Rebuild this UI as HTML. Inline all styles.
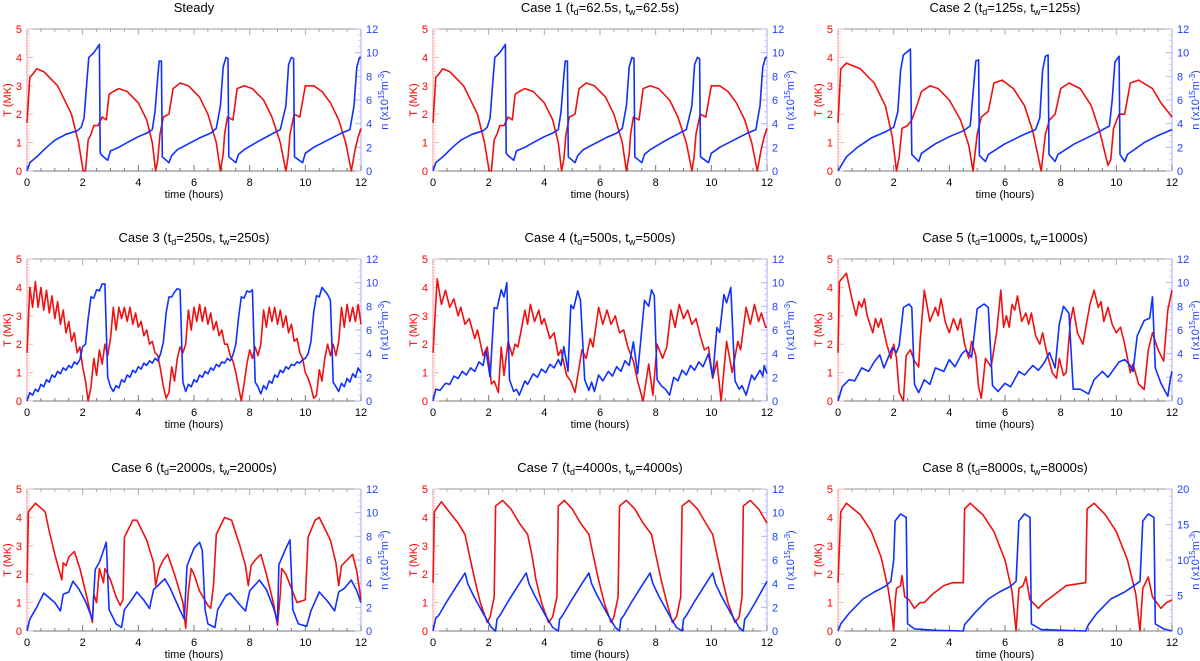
<!DOCTYPE html>
<html><head><meta charset="utf-8"><style>
html,body{margin:0;padding:0;background:#fff;}
svg{display:block;font-family:"Liberation Sans",sans-serif;}
</style></head><body>
<svg id="fig" width="1200" height="661" viewBox="0 0 1200 661" xmlns="http://www.w3.org/2000/svg"></svg>
<script>
// ---- data: [time (hours), value] pairs ----
const steadyT = [[0,1.7],[0.1,3.3],[0.2,3.4],[0.35,3.6],[0.6,3.5],[1.1,3.0],[1.6,2.0],[1.85,1.0],[2.02,0],[2.1,0],[2.2,1.1],[2.3,1.3],[2.4,1.6],[2.55,1.6],[2.7,1.9],[2.85,1.8],[2.95,2.7],[3.1,2.8],[3.3,2.9],[3.6,2.8],[4.0,2.4],[4.3,1.8],[4.5,1.0],[4.62,0],[4.7,0.4],[4.78,1.3],[4.9,1.9],[5.1,2.0],[5.25,2.9],[5.5,3.1],[5.8,3.0],[6.2,2.6],[6.5,2.0],[6.8,1.0],[6.95,0],[7.05,0.6],[7.1,1.3],[7.2,1.9],[7.4,1.8],[7.55,2.9],[7.8,3.0],[8.1,2.9],[8.5,2.5],[8.8,1.9],[9.1,1.0],[9.3,0],[9.38,0.5],[9.45,1.3],[9.6,2.0],[9.8,1.9],[10.0,3.0],[10.3,3.0],[10.6,2.8],[10.9,2.4],[11.2,1.8],[11.45,1.0],[11.65,0],[11.8,0.8],[11.9,1.2],[12,1.5]];
const steadyN = [[0,0],[0.1,0.7],[0.4,1.3],[0.7,2.0],[1.0,2.6],[1.4,3.1],[1.8,3.4],[1.95,3.7],[2.05,4.5],[2.15,7.5],[2.22,9.6],[2.4,10.0],[2.6,10.7],[2.63,1.5],[2.7,1.3],[2.9,0.9],[3.0,1.7],[3.3,2.0],[3.6,2.4],[4.0,2.9],[4.3,3.2],[4.5,3.5],[4.6,5.0],[4.7,8.0],[4.75,9.3],[4.83,9.3],[4.86,1.2],[5.1,0.7],[5.2,1.3],[5.4,1.8],[5.8,2.3],[6.2,2.8],[6.6,3.2],[6.8,3.6],[6.95,5.5],[7.05,8.8],[7.15,9.6],[7.22,9.5],[7.25,1.2],[7.5,0.7],[7.6,1.4],[7.8,1.8],[8.3,2.5],[8.7,3.0],[9.1,3.5],[9.3,5.5],[9.4,9.0],[9.5,9.6],[9.58,9.5],[9.61,1.2],[9.9,0.7],[10.0,1.5],[10.3,2.0],[10.8,2.6],[11.3,3.2],[11.6,3.5],[11.75,5.5],[11.85,8.8],[11.95,9.6],[12,9.6]];
const case1T = [[0,1.7],[0.1,3.3],[0.2,3.4],[0.35,3.6],[0.6,3.5],[1.1,3.0],[1.6,2.0],[1.85,1.0],[2.02,0],[2.1,0],[2.2,1.1],[2.3,1.3],[2.4,1.6],[2.55,1.6],[2.7,1.9],[2.85,1.8],[2.95,2.7],[3.1,2.8],[3.3,2.9],[3.6,2.8],[4.0,2.4],[4.3,1.8],[4.5,1.0],[4.62,0],[4.7,0.4],[4.78,1.3],[4.9,1.9],[5.1,2.0],[5.25,2.9],[5.5,3.1],[5.8,3.0],[6.2,2.6],[6.5,2.0],[6.8,1.0],[6.95,0],[7.05,0.6],[7.1,1.3],[7.2,1.9],[7.4,1.8],[7.55,2.9],[7.8,3.0],[8.1,2.9],[8.5,2.5],[8.8,1.9],[9.1,1.0],[9.3,0],[9.38,0.5],[9.45,1.3],[9.6,2.0],[9.8,1.9],[10.0,3.0],[10.3,3.0],[10.6,2.8],[10.9,2.4],[11.2,1.8],[11.45,1.0],[11.65,0],[11.8,0.8],[11.9,1.2],[12,1.5]];
const case1N = [[0,0],[0.1,0.7],[0.4,1.3],[0.7,2.0],[1.0,2.6],[1.4,3.1],[1.8,3.4],[1.95,3.7],[2.05,4.5],[2.15,7.5],[2.22,9.6],[2.4,10.0],[2.6,10.7],[2.63,1.5],[2.7,1.3],[2.9,0.9],[3.0,1.7],[3.3,2.0],[3.6,2.4],[4.0,2.9],[4.3,3.2],[4.5,3.5],[4.6,5.0],[4.7,8.0],[4.75,9.3],[4.83,9.3],[4.86,1.2],[5.1,0.7],[5.2,1.3],[5.4,1.8],[5.8,2.3],[6.2,2.8],[6.6,3.2],[6.8,3.6],[6.95,5.5],[7.05,8.8],[7.15,9.6],[7.22,9.5],[7.25,1.2],[7.5,0.7],[7.6,1.4],[7.8,1.8],[8.3,2.5],[8.7,3.0],[9.1,3.5],[9.3,5.5],[9.4,9.0],[9.5,9.6],[9.58,9.5],[9.61,1.2],[9.9,0.7],[10.0,1.5],[10.3,2.0],[10.8,2.6],[11.3,3.2],[11.6,3.5],[11.75,5.5],[11.85,8.8],[11.95,9.6],[12,9.6]];
const case2T = [[0,1.7],[0.1,3.6],[0.3,3.8],[0.8,3.6],[1.3,3.1],[1.7,2.3],[1.95,1.2],[2.1,0],[2.2,0.5],[2.3,1.5],[2.5,1.6],[2.65,1.8],[2.8,2.2],[3.0,2.8],[3.3,3.0],[3.6,2.9],[4.0,2.5],[4.4,1.8],[4.7,0.9],[4.85,0],[5.0,1.3],[5.15,1.9],[5.4,2.1],[5.6,3.1],[5.9,3.2],[6.3,2.9],[6.7,2.3],[7.0,1.4],[7.3,0],[7.45,1.3],[7.6,1.8],[7.8,2.0],[8.0,2.9],[8.3,3.1],[8.7,2.9],[9.1,2.3],[9.4,1.4],[9.7,0.2],[9.8,0.4],[9.9,1.5],[10.1,2.0],[10.3,2.0],[10.5,3.1],[10.8,3.2],[11.3,2.9],[11.6,2.4],[12,1.9]];
const case2N = [[0,0],[0.3,1.2],[0.7,2.0],[1.2,2.8],[1.7,3.3],[2.0,3.7],[2.15,5.0],[2.25,8.5],[2.35,9.8],[2.6,10.3],[2.65,1.4],[2.9,0.8],[3.0,1.5],[3.5,2.3],[4.0,2.9],[4.5,3.4],[4.75,3.8],[4.85,6.5],[4.95,9.3],[5.05,9.4],[5.08,1.3],[5.3,0.8],[5.4,1.4],[6.0,2.3],[6.6,3.0],[7.1,3.5],[7.25,4.5],[7.35,8.5],[7.45,9.7],[7.55,9.8],[7.58,1.4],[7.8,0.8],[7.9,1.4],[8.5,2.3],[9.2,3.1],[9.75,3.8],[9.85,6.0],[9.95,9.2],[10.1,9.7],[10.13,1.4],[10.3,0.8],[10.4,1.4],[11.0,2.4],[11.5,3.0],[12,3.5]];
// case 3: uniformly sampled every 0.1 h starting at t=0
const case3T = [1.7,4.0,3.3,4.2,3.3,4.0,3.2,3.9,3.1,3.7,2.9,3.5,2.7,3.2,2.4,2.8,2.1,2.4,1.7,1.9,1.2,0.7,0.0,0.5,1.5,0.9,1.8,1.3,2.0,1.6,2.2,3.3,2.5,3.3,2.9,3.3,2.8,3.3,2.7,3.1,2.6,2.8,2.3,2.5,2.0,2.1,1.7,1.6,1.1,0.5,0.1,0.3,1.2,0.7,1.5,1.9,1.7,2.0,3.2,2.5,3.3,2.8,3.4,2.8,3.3,2.7,3.1,2.5,2.8,2.3,2.5,2.0,2.0,1.6,1.4,1.0,0.5,0.0,0.6,1.3,1.8,1.5,1.9,1.6,2.0,3.2,2.6,3.3,2.8,3.3,2.7,3.2,2.6,3.0,2.4,2.7,2.1,2.2,1.7,1.5,1.0,0.8,0.5,0.1,0.2,1.1,0.7,1.5,2.0,1.6,2.0,1.6,2.1,3.3,2.6,3.4,2.8,3.3,2.8,3.4,2.7];
const case3N = [0,0.7,0.5,1.0,0.8,1.4,1.2,1.8,1.6,2.2,2.0,2.5,2.3,2.8,2.6,3.0,2.8,3.3,3.1,3.5,4.6,4.8,7.0,8.8,8.7,9.4,9.3,9.9,9.9,2.0,1.2,0.8,1.3,1.1,1.8,1.6,2.2,2.0,2.6,2.4,2.9,2.7,3.2,3.0,3.4,3.2,3.6,3.4,4.0,5.0,7.5,8.8,8.8,9.2,9.5,9.4,1.6,0.8,1.4,1.2,1.8,1.6,2.2,2.0,2.5,2.3,2.8,2.6,3.1,2.9,3.3,3.2,3.6,3.4,3.9,4.8,7.0,8.8,8.7,9.3,9.2,9.4,1.6,1.2,0.6,1.3,1.0,1.7,1.5,2.2,2.0,2.6,2.4,2.9,2.7,3.1,3.0,3.3,3.2,3.5,3.6,4.0,5.0,7.5,8.9,8.8,9.6,9.3,9.0,8.5,1.6,1.2,0.8,1.5,1.2,1.9,1.6,2.3,2.0,2.8,2.4];
const case4T = [[0,1.7],[0.15,4.3],[0.3,3.4],[0.45,3.9],[0.6,3.3],[0.75,3.6],[0.9,3.0],[1.0,3.3],[1.15,2.7],[1.3,2.9],[1.5,2.2],[1.6,2.5],[1.8,1.6],[1.95,1.9],[2.1,0.6],[2.2,0.7],[2.35,0.3],[2.45,1.9],[2.55,0.9],[2.7,2.1],[2.85,1.6],[2.95,2.0],[3.05,1.9],[3.15,2.4],[3.3,3.2],[3.4,2.7],[3.5,3.4],[3.65,2.8],[3.8,3.2],[3.9,2.7],[4.0,2.9],[4.2,2.2],[4.35,2.4],[4.5,1.6],[4.6,1.8],[4.8,0.9],[4.95,0.7],[5.1,0.3],[5.35,1.8],[5.5,1.5],[5.65,2.2],[5.75,1.9],[5.95,3.3],[6.1,2.7],[6.25,3.2],[6.4,2.7],[6.55,3.0],[6.7,2.4],[6.85,2.5],[7.0,1.9],[7.2,1.4],[7.35,0.7],[7.55,0],[7.75,1.3],[7.9,0.2],[8.05,2.0],[8.25,1.5],[8.4,1.9],[8.55,3.2],[8.7,2.6],[8.85,3.4],[9.0,2.9],[9.15,3.2],[9.3,2.7],[9.45,2.9],[9.6,2.3],[9.75,1.8],[9.9,1.9],[10.05,0.8],[10.2,1.4],[10.35,0],[10.55,2.1],[10.75,1.0],[10.95,2.1],[11.05,1.8],[11.25,3.3],[11.4,2.7],[11.55,3.4],[11.7,2.8],[11.8,3.1],[11.95,2.6],[12,2.6]];
const case4N = [[0,0],[0.1,1.0],[0.25,0.9],[0.45,1.5],[0.6,1.4],[0.75,2.1],[0.9,1.9],[1.05,2.5],[1.2,2.2],[1.35,2.8],[1.5,2.5],[1.65,3.3],[1.8,3.0],[1.9,4.3],[2.05,2.0],[2.2,7.9],[2.3,7.8],[2.45,9.4],[2.55,8.8],[2.65,10.0],[2.75,1.8],[2.9,0.8],[3.0,1.0],[3.1,0.5],[3.3,1.7],[3.4,1.4],[3.6,2.3],[3.75,2.0],[3.9,2.7],[4.05,2.4],[4.2,3.1],[4.35,2.8],[4.5,3.5],[4.6,3.0],[4.7,4.6],[4.85,2.5],[4.95,8.1],[5.05,7.8],[5.2,9.3],[5.3,8.5],[5.45,1.8],[5.6,0.9],[5.7,1.6],[5.8,0.8],[5.95,2.2],[6.1,1.7],[6.3,2.5],[6.45,2.1],[6.6,2.9],[6.75,2.5],[6.9,3.4],[7.05,3.0],[7.2,5.0],[7.35,2.3],[7.6,8.5],[7.75,8.0],[7.85,9.4],[7.95,8.9],[8.05,1.8],[8.2,1.3],[8.35,1.0],[8.5,0.5],[8.65,2.0],[8.8,1.7],[8.95,2.6],[9.1,2.2],[9.25,3.0],[9.4,2.6],[9.55,3.3],[9.7,2.9],[9.9,4.0],[10.05,2.0],[10.2,6.2],[10.3,5.8],[10.45,9.0],[10.55,8.3],[10.7,9.6],[10.85,1.7],[11.0,1.0],[11.1,1.3],[11.25,0.5],[11.45,2.2],[11.55,1.8],[11.75,2.6],[11.85,2.1],[11.9,3.0],[12,2.3]];
const case5T = [[0,1.7],[0.05,4.2],[0.3,4.5],[0.5,3.6],[0.65,3.0],[0.75,3.5],[0.85,3.3],[0.95,3.6],[1.05,3.0],[1.25,2.4],[1.35,2.9],[1.45,2.6],[1.55,2.9],[1.75,2.0],[1.9,1.5],[2.0,2.0],[2.1,1.5],[2.2,0.3],[2.35,0],[2.45,1.6],[2.6,1.8],[2.75,1.4],[2.9,1.2],[2.95,2.1],[3.1,3.9],[3.3,2.8],[3.5,3.3],[3.6,3.0],[3.7,3.6],[3.85,2.8],[4.0,2.4],[4.15,2.9],[4.3,2.5],[4.4,2.9],[4.55,2.0],[4.7,1.5],[4.8,2.1],[4.95,1.6],[5.05,0.5],[5.15,0.1],[5.3,1.5],[5.5,1.2],[5.7,2.4],[5.85,3.9],[5.95,2.6],[6.05,3.0],[6.15,2.6],[6.25,3.4],[6.35,3.2],[6.45,3.7],[6.6,2.8],[6.75,3.1],[6.85,2.7],[6.95,3.1],[7.1,2.3],[7.25,2.0],[7.35,2.4],[7.5,1.7],[7.7,1.0],[7.85,0.8],[7.95,1.5],[8.1,0.9],[8.2,1.0],[8.35,2.8],[8.45,3.3],[8.6,2.4],[8.8,2.0],[9.05,3.4],[9.2,3.9],[9.35,3.3],[9.45,3.5],[9.55,2.8],[9.7,3.3],[9.85,2.7],[10.0,2.4],[10.15,2.6],[10.3,2.0],[10.5,1.0],[10.6,1.3],[10.8,0.6],[11.0,0.4],[11.15,1.8],[11.3,2.4],[11.5,1.8],[11.7,1.4],[11.85,3.2],[12,3.9]];
const case5N = [[0,0],[0.15,1.2],[0.4,1.8],[0.6,1.7],[0.85,2.8],[1.1,2.5],[1.3,3.3],[1.5,3.9],[1.65,2.8],[1.95,4.5],[2.1,4.1],[2.2,4.7],[2.35,7.9],[2.55,8.2],[2.65,7.9],[2.75,1.4],[2.9,0.7],[3.1,1.8],[3.3,1.4],[3.5,2.8],[3.8,2.5],[4.0,3.5],[4.2,2.9],[4.45,4.0],[4.6,4.3],[4.8,3.7],[5.0,7.8],[5.25,8.2],[5.4,7.9],[5.55,1.3],[5.75,0.8],[6.0,1.5],[6.2,1.2],[6.5,2.5],[6.7,2.2],[7.0,3.0],[7.2,2.6],[7.4,3.2],[7.6,4.1],[7.8,2.8],[7.95,6.5],[8.1,8.0],[8.3,7.4],[8.45,1.0],[8.7,1.0],[9.0,0.6],[9.2,1.8],[9.5,2.5],[9.7,2.0],[10.1,3.3],[10.3,3.5],[10.5,3.0],[10.6,2.5],[10.75,5.5],[11.0,6.8],[11.2,7.0],[11.3,8.8],[11.4,2.8],[11.6,1.5],[11.85,0.4],[11.95,2.0],[12,2.5]];
const case6T = [[0,1.7],[0.05,4.2],[0.3,4.5],[0.65,4.2],[0.8,3.5],[1.0,2.7],[1.25,1.8],[1.3,2.4],[1.4,2.3],[1.5,2.6],[1.7,2.8],[1.9,2.2],[2.15,1.2],[2.35,0.3],[2.4,1.3],[2.5,1.0],[2.6,2.2],[2.75,1.7],[2.8,2.2],[3.0,1.8],[3.2,1.2],[3.35,0.9],[3.45,1.1],[3.5,3.3],[3.8,3.9],[3.95,3.9],[4.3,3.2],[4.55,2.4],[4.62,1.6],[4.75,2.2],[4.9,2.5],[5.05,2.7],[5.3,2.0],[5.6,1.0],[5.7,0.1],[5.8,1.4],[5.9,2.2],[6.0,2.0],[6.2,1.4],[6.5,0.9],[6.6,0.8],[6.7,1.6],[6.8,3.4],[7.1,4.0],[7.35,3.9],[7.65,3.0],[7.85,2.3],[7.95,1.6],[8.05,2.3],[8.2,2.5],[8.4,2.7],[8.6,2.0],[8.85,1.0],[9.0,0.2],[9.1,1.3],[9.15,2.2],[9.3,2.0],[9.5,1.5],[9.7,1.0],[10.0,1.1],[10.1,3.3],[10.35,3.9],[10.5,4.0],[10.9,3.2],[11.1,2.4],[11.2,1.6],[11.3,2.3],[11.5,2.5],[11.7,2.7],[11.85,2.1],[12,1.1]];
const case6N = [[0,0],[0.1,1.0],[0.35,2.0],[0.6,3.2],[0.8,2.8],[1.0,2.4],[1.2,1.7],[1.3,3.1],[1.5,3.3],[1.65,4.2],[1.85,3.6],[2.1,2.5],[2.35,1.0],[2.45,5.2],[2.6,5.8],[2.85,7.5],[2.95,1.8],[3.2,0.6],[3.4,0.3],[3.5,1.8],[3.75,2.6],[3.95,3.3],[4.2,2.6],[4.4,1.9],[4.55,3.5],[4.95,4.4],[5.15,3.6],[5.45,2.0],[5.65,1.0],[5.75,5.5],[6.0,7.0],[6.2,7.5],[6.3,6.8],[6.4,1.8],[6.5,0.6],[6.75,0.3],[6.85,1.8],[7.15,3.0],[7.3,3.2],[7.65,2.2],[7.85,1.7],[8.0,3.4],[8.35,4.3],[8.6,3.5],[8.85,2.0],[9.0,0.8],[9.05,5.6],[9.3,7.0],[9.45,7.7],[9.55,1.8],[9.75,0.6],[10.05,0.4],[10.2,1.7],[10.5,3.3],[10.8,2.5],[11.05,1.7],[11.2,3.3],[11.4,3.6],[11.65,4.3],[11.85,3.4],[12,2.4]];
const case7T = [[0,1.7],[0.05,4.2],[0.3,4.55],[0.5,4.3],[0.9,3.8],[1.15,3.4],[1.3,2.7],[1.5,1.8],[1.7,1.0],[1.95,0.3],[2.05,0.5],[2.2,1.2],[2.25,4.4],[2.5,4.6],[2.8,4.3],[3.1,3.8],[3.4,3.4],[3.55,2.7],[3.7,1.8],[3.9,1.0],[4.15,0.3],[4.3,0.5],[4.45,1.2],[4.5,4.4],[4.72,4.6],[5.0,4.3],[5.3,3.8],[5.6,3.4],[5.75,2.7],[5.95,1.8],[6.15,1.0],[6.4,0.3],[6.5,0.5],[6.65,1.2],[6.7,4.4],[6.95,4.6],[7.25,4.3],[7.55,3.8],[7.85,3.4],[8.0,2.7],[8.2,1.8],[8.4,1.0],[8.6,0.3],[8.75,0.5],[8.9,1.2],[8.95,4.4],[9.2,4.6],[9.5,4.3],[9.8,3.8],[10.05,3.4],[10.2,2.7],[10.4,1.8],[10.6,1.0],[10.85,0.3],[11.0,0.5],[11.1,1.2],[11.15,4.4],[11.4,4.6],[11.7,4.3],[12,3.8]];
const case7N = [[0,0],[0.1,1.1],[0.2,1.3],[0.5,2.5],[0.9,4.0],[1.15,4.9],[1.25,4.0],[1.45,3.0],[1.8,1.5],[2.1,0.3],[2.25,0],[2.3,1.0],[2.4,1.3],[2.7,2.5],[3.1,4.0],[3.35,4.9],[3.45,4.0],[3.65,3.0],[4.0,1.5],[4.3,0.3],[4.5,0],[4.55,1.0],[4.65,1.3],[4.95,2.5],[5.35,4.0],[5.6,4.9],[5.7,4.0],[5.9,3.0],[6.25,1.5],[6.55,0.3],[6.7,0],[6.75,1.0],[6.85,1.3],[7.15,2.5],[7.55,4.0],[7.8,4.9],[7.9,4.0],[8.1,3.0],[8.45,1.5],[8.75,0.3],[8.95,0],[9.0,1.0],[9.1,1.3],[9.4,2.5],[9.8,4.0],[10.05,4.9],[10.15,4.0],[10.35,3.0],[10.7,1.5],[11.0,0.3],[11.15,0],[11.2,1.0],[11.3,1.3],[11.6,2.5],[12,4.2]];
const case8T = [[0,1.7],[0.1,4.2],[0.3,4.5],[0.8,4.1],[1.2,3.5],[1.55,2.6],[1.8,1.5],[1.95,0.5],[2.0,0],[2.05,1.0],[2.1,1.5],[2.25,1.6],[2.3,1.95],[2.4,1.2],[2.55,1.1],[2.75,0.8],[2.95,1.0],[3.1,1.0],[3.4,1.3],[3.8,1.6],[4.1,1.7],[4.5,1.7],[4.55,4.3],[4.75,4.5],[5.2,4.1],[5.6,3.5],[6.0,2.5],[6.25,1.4],[6.4,0],[6.5,1.5],[6.65,1.6],[6.75,1.9],[6.9,1.1],[7.2,0.8],[7.4,1.0],[8.2,1.6],[8.9,1.7],[8.95,4.3],[9.2,4.5],[9.6,4.1],[10.0,3.5],[10.4,2.5],[10.7,1.3],[10.85,0],[10.95,1.5],[11.15,1.9],[11.3,1.2],[11.6,0.8],[11.8,1.0],[12,1.1]];
const case8N = [[0,0],[0.1,1.0],[0.4,2.5],[0.9,4.5],[1.3,5.5],[1.7,6.3],[1.9,7.0],[2.0,10],[2.05,15.5],[2.25,16.5],[2.45,16.0],[2.5,1.0],[2.75,0.3],[3.5,0.1],[4.5,0],[4.55,0.9],[4.9,2.5],[5.4,4.5],[5.8,5.5],[6.2,6.3],[6.4,7.0],[6.5,15.5],[6.7,16.5],[6.9,16.0],[6.95,1.0],[7.3,0.2],[8.9,0],[9.0,0.9],[9.3,2.5],[9.8,4.5],[10.3,5.5],[10.6,6.3],[10.85,7.0],[10.95,15.5],[11.15,16.5],[11.35,16.0],[11.4,1.0],[11.7,0.3],[12,0]];
const xTicks = [0,2,4,6,8,10,12];
const tTicks = [0,1,2,3,4,5];
const nTicks12 = [0,2,4,6,8,10,12];
const nTicks20 = [0,5,10,15,20];

const panels = [
 {name:'steady', title:['Steady'], T:steadyT, N:steadyN, nmax:12, nt:nTicks12},
 {name:'case-1', title:['Case 1 (t','d','=62.5s, t','w','=62.5s)'], T:case1T, N:case1N, nmax:12, nt:nTicks12},
 {name:'case-2', title:['Case 2 (t','d','=125s, t','w','=125s)'], T:case2T, N:case2N, nmax:12, nt:nTicks12},
 {name:'case-3', title:['Case 3 (t','d','=250s, t','w','=250s)'], T:case3T, N:case3N, nmax:12, nt:nTicks12},
 {name:'case-4', title:['Case 4 (t','d','=500s, t','w','=500s)'], T:case4T, N:case4N, nmax:12, nt:nTicks12},
 {name:'case-5', title:['Case 5 (t','d','=1000s, t','w','=1000s)'], T:case5T, N:case5N, nmax:12, nt:nTicks12},
 {name:'case-6', title:['Case 6 (t','d','=2000s, t','w','=2000s)'], T:case6T, N:case6N, nmax:12, nt:nTicks12},
 {name:'case-7', title:['Case 7 (t','d','=4000s, t','w','=4000s)'], T:case7T, N:case7N, nmax:12, nt:nTicks12},
 {name:'case-8', title:['Case 8 (t','d','=8000s, t','w','=8000s)'], T:case8T, N:case8N, nmax:20, nt:nTicks20}
];

const NS='http://www.w3.org/2000/svg';
const svg=document.getElementById('fig');
const colX=[27,433,838], rowY=[29,259,489], W=334, H=142;
function mk(tag,attrs,parent){const e=document.createElementNS(NS,tag);for(const k in attrs)e.setAttribute(k,attrs[k]);parent.appendChild(e);return e;}
function toPairs(a){return (typeof a[0]==='number')?a.map((v,i)=>[i*0.1,v]):a;}

panels.forEach((p,idx)=>{
  const x0=colX[idx%3], y0=rowY[Math.floor(idx/3)];
  const g=mk('g',{},svg);
  
  
  const xs=t=>x0+t/12*W, ys=v=>y0+H-v/5*H, yn=v=>y0+H-v/p.nmax*H;
  // title
  const tt=mk('text',{x:x0+W/2,y:y0-17,'text-anchor':'middle','font-size':13,fill:'#000'},g);
  
  
  p.title.forEach((s,i)=>{
    const sp=mk('tspan',{},tt); sp.textContent=s;
    if(i%2===1){sp.setAttribute('font-size','9');sp.setAttribute('dy','3');}
    else if(i>0){sp.setAttribute('dy','-3');}
  });
  // frame
  mk('line',{x1:x0,y1:y0,x2:x0+W,y2:y0,stroke:'#999','stroke-width':1},g);
  mk('line',{x1:x0,y1:y0+H,x2:x0+W,y2:y0+H,stroke:'#777','stroke-width':1},g);
  mk('line',{x1:x0,y1:y0,x2:x0,y2:y0+H,stroke:'#f9a0a0','stroke-width':1},g);
  mk('line',{x1:x0+W,y1:y0,x2:x0+W,y2:y0+H,stroke:'#a8a8ff','stroke-width':1},g);
  // x ticks
  for(let t=0;t<=12.001;t+=0.5){
    const major=Math.abs(t-Math.round(t/2)*2)<1e-6, L=major?6:3;
    mk('line',{x1:xs(t),y1:y0+H,x2:xs(t),y2:y0+H-L,stroke:'#777'},g);
    mk('line',{x1:xs(t),y1:y0,x2:xs(t),y2:y0+L,stroke:'#aaa'},g);
  }
  xTicks.forEach(t=>{
    const e=mk('text',{x:xs(t),y:y0+H+15,'text-anchor':'middle','font-size':11,fill:'#000'},g);
    e.textContent=t;
    
    
  });
  const xt=mk('text',{x:x0+W/2,y:y0+H+27,'text-anchor':'middle','font-size':11,fill:'#000'},g);
  xt.textContent='time (hours)';
  
  
  // left T ticks
  for(let v=0;v<=5.001;v+=0.1){
    const major=Math.abs(v-Math.round(v))<1e-6;
    mk('line',{x1:x0,y1:ys(v),x2:x0+(major?6:3),y2:ys(v),stroke:'#f9b0b0','stroke-width':major?1:0.6},g);
  }
  tTicks.forEach(v=>{
    const e=mk('text',{x:x0-5,y:ys(v)+4,'text-anchor':'end','font-size':11,fill:'#f00'},g);
    e.textContent=v;
    
    
  });
  const lt=mk('text',{x:0,y:0,'text-anchor':'middle','font-size':11,fill:'#f00',transform:`translate(${x0-16},${y0+H/2}) rotate(-90)`},g);
  lt.textContent='T (MK)';
  
  
  // right n ticks
  const step=p.nmax===20?1:0.5;
  for(let v=0;v<=p.nmax+0.001;v+=step){
    const major=p.nt.some(m=>Math.abs(m-v)<1e-6);
    mk('line',{x1:x0+W,y1:yn(v),x2:x0+W-(major?6:3),y2:yn(v),stroke:'#b0b0ff','stroke-width':major?1:0.6},g);
  }
  p.nt.forEach(v=>{
    const e=mk('text',{x:x0+W+5,y:yn(v)+4,'text-anchor':'start','font-size':11,fill:'#2040ff'},g);
    e.textContent=v;
    
    
  });
  const rt=mk('text',{x:0,y:0,'text-anchor':'middle','font-size':11,fill:'#2040ff',transform:`translate(${x0+W+27},${y0+H/2}) rotate(-90)`},g);
  
  
  const a=mk('tspan',{},rt); a.textContent='n (x10';
  const b=mk('tspan',{'font-size':8,dy:-4},rt); b.textContent='15';
  const c=mk('tspan',{dy:4},rt); c.textContent='m';
  const d=mk('tspan',{'font-size':8,dy:-4},rt); d.textContent='-3';
  const e2=mk('tspan',{dy:4},rt); e2.textContent=')';
  // series
  const pt=toPairs(p.T), pn=toPairs(p.N);
  const lineT=mk('polyline',{points:pt.map(q=>xs(q[0]).toFixed(1)+','+ys(q[1]).toFixed(1)).join(' '),fill:'none',stroke:'#f01010','stroke-width':1.6,'stroke-linejoin':'round'},g);
  
  
  const lineN=mk('polyline',{points:pn.map(q=>xs(q[0]).toFixed(1)+','+yn(q[1]).toFixed(1)).join(' '),fill:'none',stroke:'#1030ff','stroke-width':1.6,'stroke-linejoin':'round'},g);
  
  
});
</script>
</body></html>
